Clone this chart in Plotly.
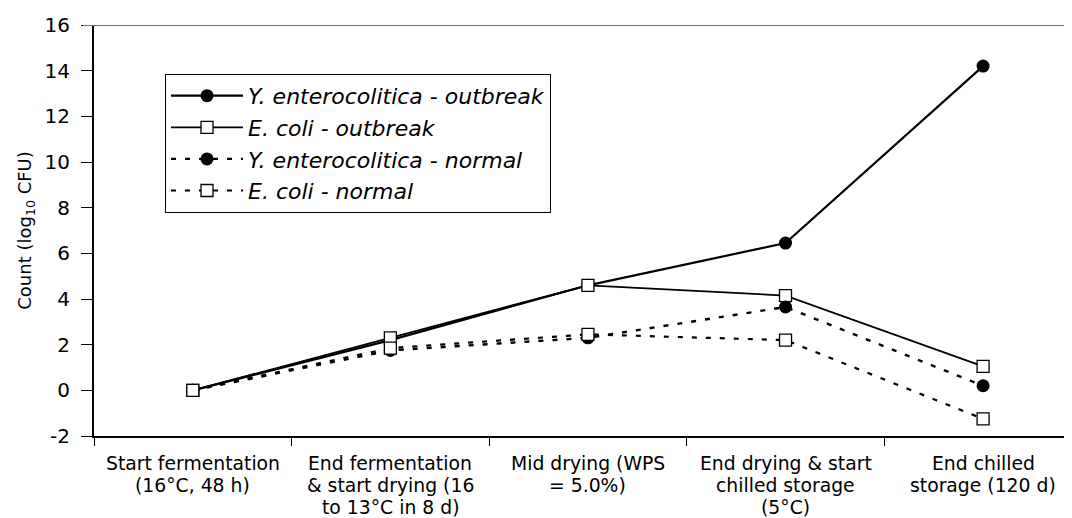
import plotly.graph_objects as go

categories = [
    "Start fermentation<br>(16°C, 48 h)",
    "End fermentation<br>& start drying (16<br>to 13°C in 8 d)",
    "Mid drying (WPS<br>= 5.0%)",
    "End drying & start<br>chilled storage<br>(5°C)",
    "End chilled<br>storage (120 d)",
]
ye_outbreak = [0.0, 2.2, 4.6, 6.45, 14.2]
ec_outbreak = [0.0, 2.3, 4.6, 4.15, 1.05]
ye_normal = [0.0, 1.75, 2.3, 3.65, 0.2]
ec_normal = [0.0, 1.85, 2.45, 2.2, -1.25]
y_ticks = [-2, 0, 2, 4, 6, 8, 10, 12, 14, 16]
y_tick_text = ["-2", "0", "2", "4", "6", "8", "10", "12", "14", "16"]

FONT = "DejaVu Sans, Liberation Sans, Arial, sans-serif"
DASH = "5px,9px"
fig = go.Figure()
fig.add_trace(go.Scatter(x=categories, y=ye_outbreak, mode="lines+markers",
    name="Y. enterocolitica - outbreak", legendgroup="a",
    line=dict(color="black", width=2.2),
    marker=dict(symbol="circle", size=13, color="black")))
fig.add_trace(go.Scatter(x=categories, y=ec_outbreak, mode="lines+markers",
    name="E. coli - outbreak", legendgroup="b",
    line=dict(color="black", width=1.8),
    marker=dict(symbol="square", size=12, color="white", line=dict(color="black", width=1.3))))
fig.add_trace(go.Scatter(x=categories, y=ye_normal, mode="lines+markers",
    name="Y. enterocolitica - normal", legendgroup="c",
    line=dict(color="black", width=2.4, dash=DASH),
    marker=dict(symbol="circle", size=13, color="black")))
fig.add_trace(go.Scatter(x=categories, y=ec_normal, mode="lines+markers",
    name="E. coli - normal", legendgroup="d",
    line=dict(color="black", width=2.2, dash=DASH),
    marker=dict(symbol="square", size=12, color="white", line=dict(color="black", width=1.3))))

fig.add_shape(type="line", xref="paper", yref="y", x0=-0.0112, x1=1, y0=16, y1=16,
              line=dict(color="#707070", width=2))

# category labels, one annotation per line for tight line spacing
for cat in categories:
    for j, line in enumerate(cat.split("<br>")):
        fig.add_annotation(x=cat, y=-2, xref="x", yref="y", text=line,
                           showarrow=False, yanchor="middle", xanchor="center",
                           yshift=-(27 + 22 * j), borderpad=0,
                           font=dict(size=18.8, color="black", family=FONT))

fig.update_layout(
    width=1064, height=510,
    margin=dict(l=86, r=0, t=17, b=82),
    paper_bgcolor="white", plot_bgcolor="white",
    font=dict(family=FONT, color="black", size=15),
    showlegend=True,
    legend=dict(x=0.0726, y=0.881, xanchor="left", yanchor="top",
                bordercolor="black", borderwidth=1, bgcolor="white",
                font=dict(size=22, style="italic"),
                traceorder="grouped", tracegroupgap=0, itemwidth=72),
)
fig.update_xaxes(type="category", range=[-0.5, 4.45], tickson="boundaries",
                 ticks="outside", ticklen=8, tickcolor="black",
                 showline=True, linecolor="black", linewidth=1.5,
                 showgrid=False, zeroline=False, showticklabels=False,
                 automargin=False)
fig.update_yaxes(range=[-2, 16], tickmode="array", tickvals=y_ticks, ticktext=y_tick_text,
                 ticks="outside", ticklen=11, tickcolor="black",
                 showline=True, linecolor="black", linewidth=2,
                 showgrid=False, zeroline=False,
                 tickfont=dict(size=20), ticklabelstandoff=7, automargin=False,
                 title=dict(text="Count (log<sub>10</sub> CFU)", font=dict(size=18), standoff=8))

fig.write_html("out.html")
